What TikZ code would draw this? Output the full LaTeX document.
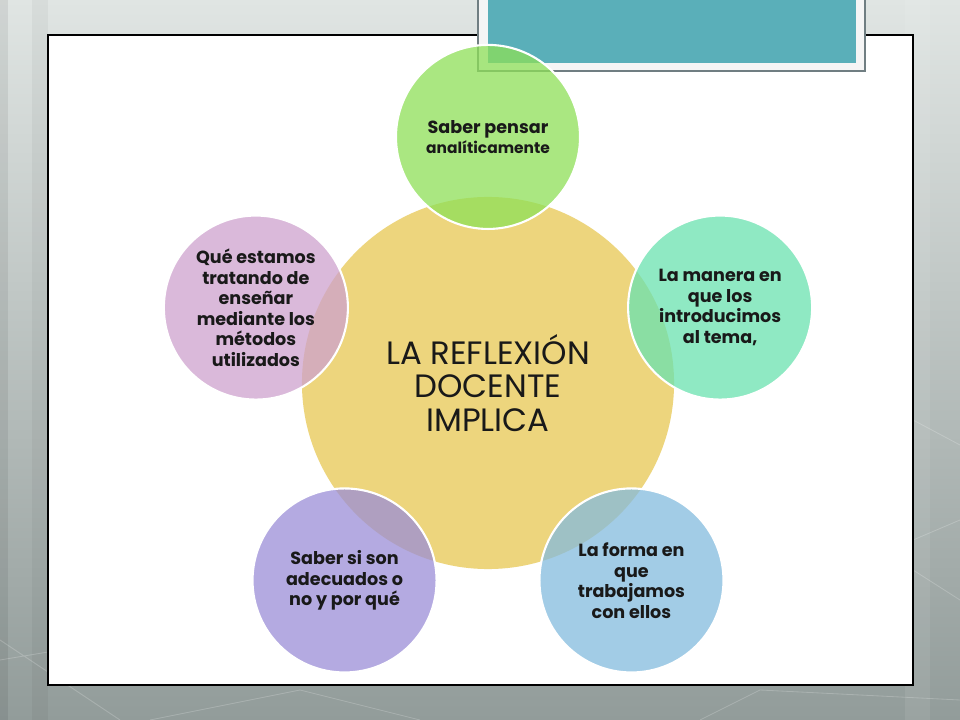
\documentclass[tikz,border=0pt]{standalone}
\usepackage{fontspec}
\setmainfont{Poppins}
\usetikzlibrary{positioning}
\definecolor{bgtop}{RGB}{224,229,227}
\definecolor{bgbottom}{RGB}{146,156,154}
\definecolor{tealbox}{RGB}{90,175,185}
\definecolor{framegray}{RGB}{112,126,130}
\definecolor{hubyellow}{RGB}{237,213,125}
\definecolor{softgreen}{RGB}{142,224,88}
\definecolor{softmint}{RGB}{106,226,176}
\definecolor{softblue}{RGB}{132,187,222}
\definecolor{softpurple}{RGB}{155,142,215}
\definecolor{softpink}{RGB}{206,162,206}

\begin{document}
\begin{tikzpicture}[x=0.025cm,y=-0.025cm,
  bubble/.style={circle,draw=white,line width=1.5pt,fill opacity=0.75,text opacity=1,
    minimum size=4.6cm,inner sep=0pt,align=center,text=black!90,
    font=\fontsize{12.5}{14.6}\selectfont\bfseries},
  hub/.style={circle,fill=hubyellow,minimum size=9.3cm,inner sep=0pt,align=center,
    text=black!90,font=\fontsize{23}{24}\selectfont}]
\useasboundingbox (0,0) rectangle (960,720);
% background
\fill[top color=bgtop,bottom color=bgbottom] (0,0) rectangle (960,720);
\fill[black,opacity=0.07] (0,0) rectangle (8,720);
\fill[black,opacity=0.04] (32,0) rectangle (48,720);
\fill[white,opacity=0.08] (905,0) rectangle (930,720);
\draw[white,opacity=0.2,line width=0.6pt] (0,640) -- (120,720) (0,660) -- (48,652) (150,720) -- (300,690) -- (420,720)
  (913,540) -- (960,520) (913,570) -- (960,600) (700,720) -- (760,690) -- (960,700) (913,420) -- (960,445);
% slide frame
\draw[line width=1pt,fill=white] (48,35) rectangle (913,685);
% title box
\draw[framegray,line width=1pt,fill=white!96!black] (478,-5) rectangle (865,71);
\fill[tealbox] (488,-5) rectangle (856,63);
% hub and satellites
\node[hub] (hub) at (488,383) {LA REFLEXIÓN\\DOCENTE\\IMPLICA};
\node[bubble,fill=softgreen] (think) at ([shift={(90:6.15cm)}]hub.center)
  {Saber pensar\\{\fontsize{11}{13}\selectfont analíticamente}};
\node[bubble,fill=softmint] (topic) at ([shift={(18:6.1cm)}]hub.center)
  {La manera en\\que los\\introducimos\\al tema,};
\node[bubble,fill=softblue] (work) at ([shift={(-54:6.1cm)}]hub.center)
  {La forma en\\que\\trabajamos\\con ellos};
\node[bubble,fill=softpurple] (adequacy) at ([shift={(-126:6.1cm)}]hub.center)
  {Saber si son\\adecuados o\\no y por qué};
\node[bubble,fill=softpink] (teaching) at ([shift={(162:6.1cm)}]hub.center)
  {Qué estamos\\tratando de\\enseñar\\mediante los\\métodos\\utilizados};
\end{tikzpicture}
\end{document}
